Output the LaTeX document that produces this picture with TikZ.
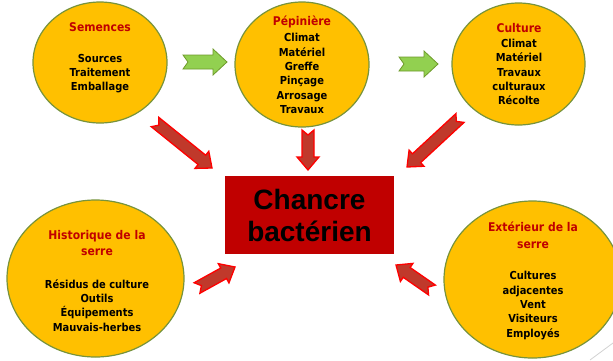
\documentclass[tikz,border=0pt]{standalone}
\usepackage{fontspec}
\setmainfont{DejaVu Sans}
\newfontfamily\bullefont[FakeStretch=0.9]{DejaVu Sans}
\newfontfamily\grosfont{Liberation Sans}
\usetikzlibrary{calc,shapes.geometric}
\definecolor{jaune}{HTML}{FFC000}
\definecolor{olive}{HTML}{77933C}
\definecolor{rouge}{HTML}{C00000}
\definecolor{brique}{HTML}{C0392B}
\definecolor{vert}{HTML}{92D050}
\definecolor{vertfonce}{HTML}{6E9A2A}
\tikzset{%
    bulle/.style={ellipse,draw=olive,line width=1.2pt,fill=jaune,inner sep=0pt},
    txt/.style={align=center,inner sep=0pt,font=\bullefont\bfseries\fontsize{11}{14.3}\selectfont},
    titre/.style={align=center,inner sep=0pt,text=rouge,font=\bullefont\bfseries\fontsize{12}{16.5}\selectfont},
    boite/.style={fill=rouge,minimum width=169pt,minimum height=78pt,align=center,inner sep=0pt,
        font=\grosfont\bfseries\fontsize{28}{32}\selectfont},
    fr/.style={fill=brique,draw=red,line width=1.3pt,line join=miter},
    fv/.style={fill=vert,draw=vertfonce,line width=0.8pt,line join=miter}
}
% notched block arrow: style, tail, tip, half shaft, half head, head length
\newcommand{\fleche}[6]{%
    \coordinate (#2h) at ($(#3)!#6!(#2)$);
    \path[#1] ($(#2)!#4!90:(#3)$) -- ($(#2h)!#4!90:(#3)$) -- ($(#2h)!#5!90:(#3)$) -- (#3)
        -- ($(#2h)!#5!-90:(#3)$) -- ($(#2h)!#4!-90:(#3)$) -- ($(#2)!#4!-90:(#3)$)
        -- ($(#2)!5pt!(#3)$) -- cycle;
}

\begin{document}
\begin{tikzpicture}[x=1pt,y=-1pt]
        \clip (0,0) rectangle (613,360);

        \node[bulle,minimum width=134pt,minimum height=121pt] (sem) at (100,62.5){};
        \node[bulle,minimum width=134pt,minimum height=125pt] (pep) at (302,64.5){};
        \node[bulle,minimum width=133pt,minimum height=122pt] (cul) at (518.5,64){};
        \node[bulle,minimum width=177pt,minimum height=157pt] (his) at (95.5,278.5){};
        \node[bulle,minimum width=177pt,minimum height=157pt] (ext) at (532.5,279.5){};
        \node[boite] (chancre) at (309.5,215){Chancre\\bact\'erien};

        \node[titre] (semT) at (100,27){Semences};
        \node[txt] (semB) at (100,73.5){Sources\\Traitement\\Emballage};
        \node[titre] (pepT) at (302,22){P\'epini\`ere};
        \node[txt] (pepB) at (302,73.5){Climat\\Mat\'eriel\\Greffe\\Pin\c{c}age\\Arrosage\\Travaux};
        \node[titre] (culT) at (519,28){Culture};
        \node[txt] (culB) at (519,72){Climat\\Mat\'eriel\\Travaux\\culturaux\\R\'ecolte};
        \node[titre] (hisT) at (97,243){Historique de la\\serre};
        \node[txt] (hisB) at (97,305.5){R\'esidus de culture\\Outils\\\'Equipements\\Mauvais-herbes};
        \node[titre] (extT) at (533,235.5){Ext\'erieur de la\\serre};
        \node[txt] (extB) at (533,305.5){Cultures\\adjacentes\\Vent\\Visiteurs\\Employ\'es};

        \coordinate (g1) at (183,62);
        \coordinate (g1t) at (227,62);
        \coordinate (g2) at (399,64);
        \coordinate (g2t) at (438,64);
        \coordinate (r1) at (155,122);
        \coordinate (r1t) at (212,168);
        \coordinate (r2) at (308,130);
        \coordinate (r2t) at (308,170);
        \coordinate (r3) at (460,118);
        \coordinate (r3t) at (407,167);
        \coordinate (r4) at (197,288);
        \coordinate (r4t) at (235,267);
        \coordinate (r5) at (432,290);
        \coordinate (r5t) at (396,265);

        \fleche{fv}{g1}{g1t}{7pt}{13pt}{14pt}
        \fleche{fv}{g2}{g2t}{7pt}{13pt}{14pt}
        \fleche{fr}{r1}{r1t}{6pt}{11pt}{13pt}
        \fleche{fr}{r2}{r2t}{6pt}{11pt}{13pt}
        \fleche{fr}{r3}{r3t}{6pt}{11pt}{13pt}
        \fleche{fr}{r4}{r4t}{6pt}{11pt}{13pt}
        \fleche{fr}{r5}{r5t}{6pt}{11pt}{13pt}

        \draw[gray!35,line width=0.8pt] (590,360) -- (613,343);
    \end{tikzpicture}
\end{document}
